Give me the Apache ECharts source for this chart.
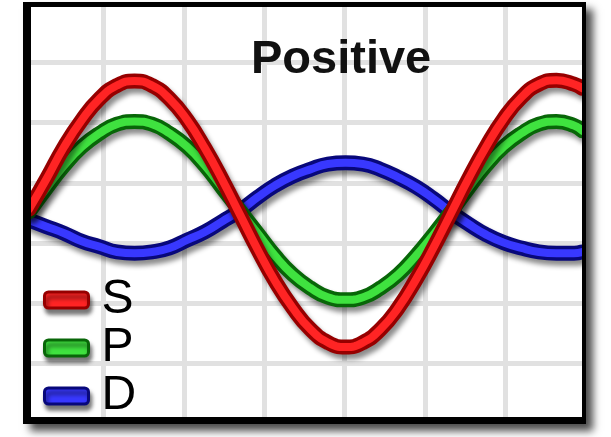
<!DOCTYPE html>
<html>
<head>
<meta charset="utf-8">
<title>Positive</title>
<script src="https://cdn.jsdelivr.net/npm/echarts@6/dist/echarts.min.js"></script>
<style>
  html, body { margin: 0; padding: 0; background: #fff; }
  #chart { width: 611px; height: 437px; }
</style>
</head>
<body>
<div id="chart"></div>
<script>
// Phase angle (degrees) of each sample along the horizontal axis
const phase = [0, 15, 30, 45, 60, 75, 90, 105, 120, 135, 150, 165, 180, 195, 210, 225, 240,
               255, 270, 285, 300, 315, 330, 345, 360, 375, 390, 405, 420, 435, 450, 465, 472];

// Wave amplitudes for the three orbital curves
const sValues = [0.02, 0.25, 0.49, 0.69, 0.85, 0.95, 0.985, 0.95, 0.85, 0.69, 0.48, 0.24, -0.02, -0.28, -0.52, -0.72, -0.88,
                 -0.98, -1.015, -0.98, -0.88, -0.72, -0.51, -0.27, -0.01, 0.25, 0.49, 0.70, 0.86, 0.96, 0.99, 0.96, 0.93];
const pValues = [0.00, 0.18, 0.35, 0.49, 0.59, 0.66, 0.68, 0.66, 0.59, 0.49, 0.35, 0.18, 0.01, -0.16, -0.33, -0.47, -0.57,
                 -0.64, -0.66, -0.64, -0.57, -0.47, -0.33, -0.17, 0.00, 0.18, 0.35, 0.49, 0.59, 0.66, 0.68, 0.65, 0.61];
const dValues = [-0.06, -0.11, -0.16, -0.22, -0.26, -0.30, -0.31, -0.30, -0.27, -0.21, -0.15, -0.07, 0.01, 0.11, 0.20, 0.27, 0.32,
                 0.36, 0.37, 0.36, 0.32, 0.26, 0.19, 0.10, 0.00, -0.09, -0.17, -0.23, -0.27, -0.30, -0.31, -0.31, -0.30];

const seriesNames = ['S', 'P', 'D'];
const titleText = 'Positive';

// Tube colours: bright core and dark rim per curve
const coreColors = { S: '#ff2424', P: '#3fe23f', D: '#3838ff' };
const rimColors  = { S: '#960000', P: '#086608', D: '#08087a' };

const valuesByName = { S: sValues, P: pValues, D: dValues };

function pairs(vals) {
  return phase.map((x, i) => [x, vals[i]]);
}

// Each curve is a dark wide stroke with a shadow, topped by a narrower bright stroke
function tubeSeries(name) {
  const data = pairs(valuesByName[name]);
  return [
    {
      name: name,
      type: 'line',
      xAxisIndex: 0, yAxisIndex: 0,
      data: data,
      smooth: 0.5,
      showSymbol: false,
      silent: true,
      itemStyle: { color: coreColors[name] },
      lineStyle: {
        color: rimColors[name], width: 15, cap: 'round',
        shadowColor: 'rgba(0,0,0,0.45)', shadowBlur: 5, shadowOffsetX: 3, shadowOffsetY: 5
      }
    },
    {
      name: name + ' core',
      type: 'line',
      xAxisIndex: 0, yAxisIndex: 0,
      data: data,
      smooth: 0.5,
      showSymbol: false,
      silent: true,
      lineStyle: { color: coreColors[name], width: 8, cap: 'round' }
    }
  ];
}

const chart = echarts.init(document.getElementById('chart'), null, { renderer: 'canvas' });

const option = {
  animation: false,
  backgroundColor: '#fff',
  title: {
    text: titleText,
    left: 251,
    top: 37,
    padding: 0,
    textStyle: {
      fontFamily: '"Liberation Sans", Arial, sans-serif',
      fontWeight: 'bold',
      fontSize: 47,
      color: '#111'
    }
  },
  legend: {
    orient: 'vertical',
    left: 43,
    top: 276,
    padding: 0,
    itemGap: 0,
    itemWidth: 44,
    itemHeight: 16,
    icon: 'roundRect',
    selectedMode: false,
    textStyle: {
      fontFamily: '"Liberation Sans Narrow", "Liberation Sans", Arial, sans-serif',
      fontSize: 48,
      lineHeight: 47,
      color: '#000',
      padding: [0, 0, 0, 8]
    },
    data: seriesNames.map(n => ({
      name: n,
      itemStyle: {
        color: coreColors[n],
        borderColor: rimColors[n],
        borderWidth: 3,
        shadowColor: 'rgba(0,0,0,0.5)',
        shadowBlur: 4,
        shadowOffsetX: 2,
        shadowOffsetY: 5
      }
    }))
  },
  grid: [
    // plotting area for the curves (strokes are clipped just inside the frame)
    { left: 31, top: 7, width: 547, height: 410, show: false },
    // square-ruled background
    { left: 23, top: 2, width: 563, height: 422, show: false }
  ],
  xAxis: [
    { gridIndex: 0, type: 'value', min: 1.7, max: 468.4, show: false },
    {
      gridIndex: 1, type: 'value', min: 0, max: 7, interval: 1,
      axisLine: { show: false }, axisTick: { show: false }, axisLabel: { show: false },
      splitLine: { show: true, showMinLine: false, showMaxLine: false, lineStyle: { color: '#e1e1e1', width: 5 } }
    }
  ],
  yAxis: [
    { gridIndex: 0, type: 'value', min: -1.54, max: 1.54, show: false },
    {
      gridIndex: 1, type: 'value', min: 0, max: 7, interval: 1,
      axisLine: { show: false }, axisTick: { show: false }, axisLabel: { show: false },
      splitLine: { show: true, showMinLine: false, showMaxLine: false, lineStyle: { color: '#e1e1e1', width: 5 } }
    }
  ],
  graphic: [
    // drop shadow behind the framed panel
    {
      type: 'rect', z: -5, silent: true,
      shape: { x: 23, y: 2, width: 563, height: 422 },
      style: { fill: '#fff', shadowColor: 'rgba(0,0,0,0.7)', shadowBlur: 8, shadowOffsetX: 7, shadowOffsetY: 7 }
    },
    // black frame
    { type: 'rect', z: 100, silent: true, shape: { x: 23, y: 2, width: 563, height: 5 }, style: { fill: '#000' } },
    { type: 'rect', z: 100, silent: true, shape: { x: 23, y: 417, width: 563, height: 7 }, style: { fill: '#000' } },
    { type: 'rect', z: 100, silent: true, shape: { x: 23, y: 2, width: 8, height: 422 }, style: { fill: '#000' } },
    { type: 'rect', z: 100, silent: true, shape: { x: 582, y: 2, width: 4, height: 422 }, style: { fill: '#000' } }
  ],
  series: [].concat(tubeSeries('D'), tubeSeries('P'), tubeSeries('S'))
};

chart.setOption(option);
</script>
</body>
</html>
